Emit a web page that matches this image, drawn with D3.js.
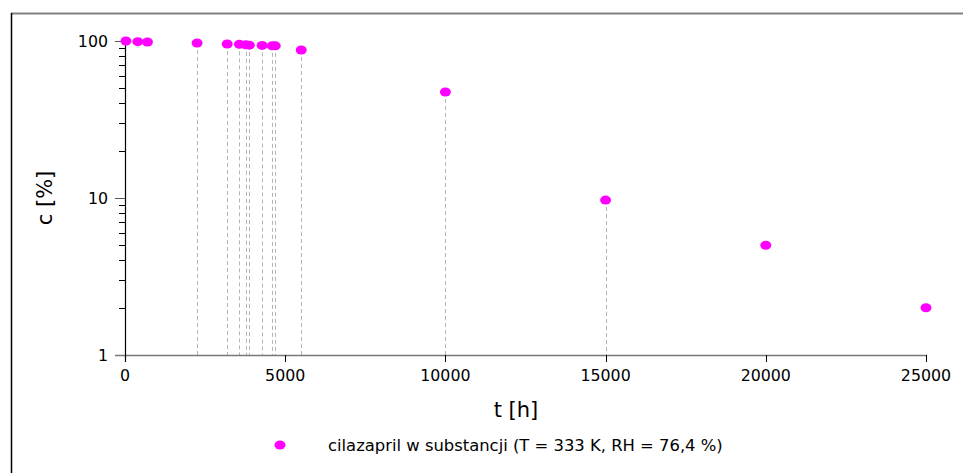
<!DOCTYPE html>
<html lang="pl">
<head>
  <meta charset="UTF-8">
  <title>cilazapril</title>
  <script src="https://d3js.org/d3.v7.min.js"></script>
  <style>
    body { margin: 0; background: #fff; }
    text { font-family: Verdana, "DejaVu Sans", sans-serif; fill: #000; }
  </style>
</head>
<body>
  <div id="container"></div>
  <script>
    // data
    var times = [30, 400, 700, 2250, 3190, 3570, 3770, 3880, 4280, 4590, 4690, 5500, 10000, 15000, 20000, 25000];
    var conc = [100, 99, 98.5, 97.1, 95.7, 95.2, 94.6, 94.1, 93.7, 93.1, 93.1, 87.6, 47.3, 9.7, 5.0, 2.0];
    var hasDrop = [0, 0, 0, 1, 1, 1, 1, 1, 1, 1, 1, 1, 1, 1, 0, 0];
    var xTicks = [0, 5000, 10000, 15000, 20000, 25000];
    var yTicks = [1, 10, 100];
    var legendLabel = "cilazapril w substancji (T = 333 K, RH = 76,4 %)";

    var width = 963, height = 473;
    var svg = d3.select("#container").append("svg")
      .attr("width", width)
      .attr("height", height);

    var x = d3.scaleLinear().domain([0, 25000]).range([125, 926]);
    var y = d3.scaleLog().domain([1, 100]).range([355, 41]);

    var data = times.map(function (t, i) {
      return { t: t, c: conc[i], drop: hasDrop[i] };
    });

    // frame
    svg.append("line").attr("x1", 11).attr("x2", 963).attr("y1", 13.5).attr("y2", 13.5)
      .attr("stroke", "#808080").attr("stroke-width", 2);
    svg.append("line").attr("x1", 11.5).attr("x2", 11.5).attr("y1", 13).attr("y2", 473)
      .attr("stroke", "#000").attr("stroke-width", 1.5);

    // drop lines
    svg.selectAll(".drop")
      .data(data.filter(function (d) { return d.drop; }))
      .enter().append("line")
      .attr("class", "drop")
      .attr("x1", function (d) { return Math.round(x(d.t)) + 0.5; })
      .attr("x2", function (d) { return Math.round(x(d.t)) + 0.5; })
      .attr("y1", function (d) { return y(d.c); })
      .attr("y2", y(1))
      .attr("stroke", "#b4b4b4")
      .attr("stroke-dasharray", "4,3");

    // x axis
    var xAxis = svg.append("g").attr("transform", "translate(0," + y(1) + ")");
    xAxis.append("line").attr("x1", 115).attr("x2", 927).attr("y1", 0.5).attr("y2", 0.5)
      .attr("stroke", "#777").attr("stroke-width", 1.5);
    xAxis.selectAll(".xt").data(xTicks).enter().append("line")
      .attr("x1", function (d) { return Math.round(x(d)) + 0.5; })
      .attr("x2", function (d) { return Math.round(x(d)) + 0.5; })
      .attr("y1", 0).attr("y2", 7).attr("stroke", "#000");
    xAxis.selectAll(".xl").data(xTicks).enter().append("text")
      .attr("x", function (d) { return x(d); })
      .attr("y", 26)
      .attr("text-anchor", "middle")
      .attr("font-size", 15.8)
      .text(function (d) { return d; });

    // y axis
    var yAxis = svg.append("g");
    yAxis.append("line").attr("x1", 125.5).attr("x2", 125.5).attr("y1", y(100)).attr("y2", y(1) + 7)
      .attr("stroke", "#000").attr("stroke-width", 1.2);
    var minor = [];
    [1, 10].forEach(function (b) { for (var k = 2; k <= 9; k++) minor.push(b * k); });
    yAxis.selectAll(".ym").data(minor).enter().append("line")
      .attr("x1", 119).attr("x2", 125)
      .attr("y1", function (d) { return Math.round(y(d)) + 0.5; })
      .attr("y2", function (d) { return Math.round(y(d)) + 0.5; })
      .attr("stroke", "#000");
    yAxis.selectAll(".yt").data([10, 100]).enter().append("line")
      .attr("x1", 115).attr("x2", 125)
      .attr("y1", function (d) { return Math.round(y(d)) + 0.5; })
      .attr("y2", function (d) { return Math.round(y(d)) + 0.5; })
      .attr("stroke", "#555");
    yAxis.selectAll(".yl").data(yTicks).enter().append("text")
      .attr("x", 108)
      .attr("y", function (d) { return y(d); })
      .attr("dy", "0.35em")
      .attr("text-anchor", "end")
      .attr("font-size", 15.8)
      .text(function (d) { return d; });

    // axis titles
    svg.append("text")
      .attr("x", 516).attr("y", 417)
      .attr("text-anchor", "middle")
      .attr("font-size", 21)
      .text("t [h]");
    svg.append("text")
      .attr("transform", "translate(52," + y(10) + ") rotate(-90)")
      .attr("text-anchor", "middle")
      .attr("font-size", 21)
      .text("c [%]");

    // points
    svg.selectAll(".pt").data(data).enter().append("ellipse")
      .attr("class", "pt")
      .attr("cx", function (d) { return x(d.t); })
      .attr("cy", function (d) { return y(d.c); })
      .attr("rx", 5.5).attr("ry", 4.5)
      .attr("fill", "#ff00ff");

    // legend
    var legend = svg.append("g").attr("transform", "translate(280,445)");
    legend.append("ellipse").attr("rx", 5.5).attr("ry", 4.5).attr("fill", "#ff00ff");
    legend.append("text")
      .attr("x", 48).attr("dy", "0.35em")
      .attr("font-size", 16.4)
      .text(legendLabel);
  </script>
</body>
</html>
